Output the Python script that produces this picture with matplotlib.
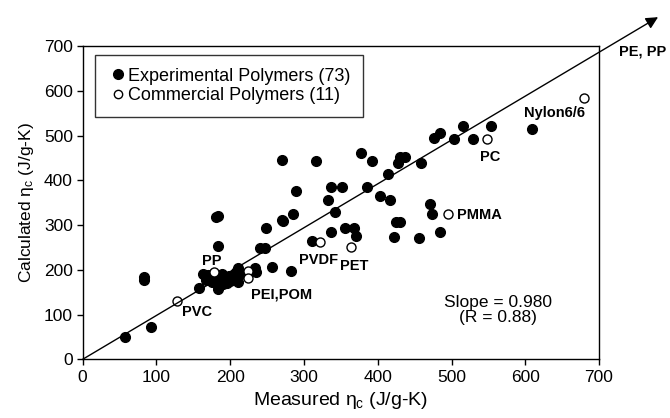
import numpy as np
import matplotlib
matplotlib.use('Agg')
import matplotlib.pyplot as plt

plt.rcParams['font.family'] = ['Liberation Sans', 'DejaVu Sans']
plt.rcParams['mathtext.fontset'] = 'custom'
plt.rcParams['mathtext.rm'] = 'Liberation Sans'
plt.rcParams['mathtext.it'] = 'Liberation Sans'

# experimental polymers (73): measured, calculated
exp_meas = [57, 93, 83, 83, 158, 163, 170, 167, 175, 180, 184, 186, 189, 192, 195,
            198, 200, 204, 208, 210, 211, 190, 181, 184, 184, 234, 235, 256, 282, 240,
            247, 248, 271, 285, 311, 337, 342, 332, 355, 368, 371, 425, 430, 422, 456,
            471, 474, 484, 270, 316, 377, 392, 289, 337, 352, 385, 270, 403, 417, 414,
            428, 430, 437, 459, 476, 484, 503, 529, 515, 553, 609, 215, 176]
exp_calc = [49, 73, 177, 185, 159, 191, 188, 178, 172, 183, 157, 175, 190, 180, 171,
            186, 176, 184, 196, 204, 173, 168, 318, 321, 254, 204, 194, 207, 197, 248,
            248, 293, 308, 325, 264, 285, 328, 355, 293, 293, 276, 306, 306, 273, 272,
            347, 324, 285, 446, 442, 462, 442, 376, 386, 386, 385, 311, 364, 357, 414,
            438, 451, 451, 438, 494, 506, 493, 493, 521, 521, 515, 190, 190]

# commercial polymers shown on scale
com_meas = [128, 178, 224, 224, 322, 364, 495, 548, 680]
com_calc = [131, 194, 198, 181, 263, 251, 324, 493, 583]

labels = ['PVC', 'PP', 'PEI,POM', 'PVDF', 'PET', 'PMMA', 'PC', 'Nylon6/6', 'PE, PP']
label_x = [134, 175, 270, 320, 368, 507, 553, 640, 727]
label_y = [106, 220, 145, 221, 209, 323, 451, 551, 687]
label_ha = ['left', 'center', 'center', 'center', 'center', 'left', 'center', 'center', 'left']

slope = 0.980
r_val = 0.88

fig = plt.figure(figsize=(6.7, 4.18), dpi=100)
ax = fig.add_axes([0.1234, 0.1404, 0.7707, 0.7496])

ax.plot(exp_meas, exp_calc, 'o', color='black', markersize=7, linestyle='none',
        label='Experimental Polymers (73)')
ax.plot(com_meas, com_calc, 'o', markerfacecolor='white', markeredgecolor='black',
        markeredgewidth=1.0, markersize=6.5, linestyle='none',
        label='Commercial Polymers (11)')

# fit line with arrow running out past the frame
ax.annotate('', xy=(780, 780 * slope), xytext=(0, 0),
            arrowprops=dict(arrowstyle='-|>', color='black', lw=1.0,
                            mutation_scale=18, shrinkA=0, shrinkB=0),
            annotation_clip=False)

for t, x, y, ha in zip(labels, label_x, label_y, label_ha):
    ax.text(x, y, t, fontsize=10.5, fontweight='bold', ha=ha, va='center',
            clip_on=False)

ax.text(563, 110, 'Slope = %.3f\n(R = %.2f)' % (slope, r_val), fontsize=12.5,
        ha='center', va='center', linespacing=1.0)

ax.set_xlim(0, 700)
ax.set_ylim(0, 700)
ax.set_xticks(np.arange(0, 701, 100))
ax.set_yticks(np.arange(0, 701, 100))
ax.tick_params(labelsize=12.5, direction='out', length=4, width=1)
ax.tick_params(axis='y', pad=3)
for s in ax.spines.values():
    s.set_linewidth(1.0)

ax.set_xlabel(r'Measured $\eta_{\rm c}$ (J/g-K)', fontsize=14, labelpad=4)
ax.set_ylabel(r'Calculated $\eta_{\rm c}$ (J/g-K)', fontsize=12.5, labelpad=6)

leg = ax.legend(loc='upper left', bbox_to_anchor=(0.024, 0.971), borderaxespad=0,
                fontsize=13, frameon=True, fancybox=False, handletextpad=0.0,
                handlelength=1.1, borderpad=0.7, labelspacing=0.12)
leg.get_frame().set_edgecolor('black')
leg.get_frame().set_linewidth(1.0)
hs = leg.legend_handles
hs[0].set_markersize(7)
hs[1].set_markersize(6)

plt.savefig('out.png', dpi=100)
